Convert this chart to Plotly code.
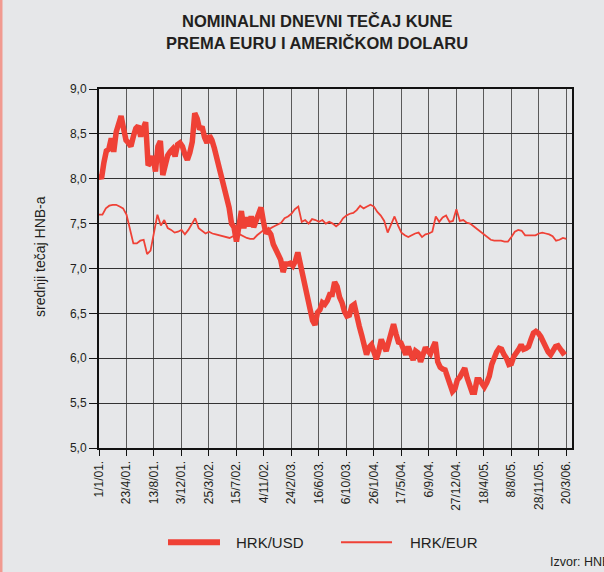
import pandas as pd
import plotly.graph_objects as go

START = "2001-01-01"

# HRK/USD, sampled every 10 days from 1 Jan 2001
usd = [8.05, 8.00, 8.18, 8.31, 8.33, 8.45, 8.30, 8.52, 8.61, 8.70,
       8.56, 8.43, 8.40, 8.36, 8.47, 8.56, 8.59, 8.47, 8.56, 8.63,
       8.15, 8.18, 8.25, 8.08, 8.36, 8.42, 8.04, 8.19, 8.26, 8.30,
       8.33, 8.25, 8.38, 8.40, 8.36, 8.27, 8.21, 8.29, 8.41, 8.73,
       8.67, 8.55, 8.58, 8.46, 8.40, 8.48, 8.43, 8.34, 8.23, 8.09,
       8.00, 7.89, 7.80, 7.68, 7.50, 7.46, 7.30, 7.53, 7.64, 7.45,
       7.57, 7.47, 7.58, 7.46, 7.55, 7.62, 7.68, 7.52, 7.39, 7.42,
       7.38, 7.27, 7.21, 7.15, 7.10, 6.96, 7.05, 7.05, 7.06, 7.03,
       7.08, 7.18, 7.05, 6.92, 6.80, 6.68, 6.53, 6.42, 6.37, 6.51,
       6.54, 6.62, 6.60, 6.64, 6.71, 6.71, 6.85, 6.80, 6.68, 6.62,
       6.52, 6.47, 6.48, 6.58, 6.60, 6.46, 6.36, 6.26, 6.14, 6.04,
       6.12, 6.15, 6.07, 5.99, 6.08, 6.21, 6.14, 6.08, 6.18, 6.26,
       6.38, 6.27, 6.18, 6.17, 6.09, 6.04, 6.13, 6.06, 5.98, 6.08,
       6.06, 5.96, 6.05, 6.12, 6.08, 6.05, 6.12, 6.18, 5.96, 5.90,
       5.88, 5.87, 5.79, 5.70, 5.63, 5.66, 5.76, 5.79, 5.83, 5.89,
       5.78, 5.67, 5.62, 5.62, 5.76, 5.76, 5.71, 5.68, 5.73, 5.80,
       5.93, 6.01, 6.07, 6.11, 6.10, 6.04, 6.00, 5.93, 5.94, 6.02,
       6.05, 6.10, 6.15, 6.10, 6.11, 6.13, 6.21, 6.28, 6.30, 6.28,
       6.24, 6.18, 6.12, 6.07, 6.04, 6.08, 6.13, 6.14, 6.11, 6.06,
       6.08]

# HRK/EUR, sampled every 14 days from 1 Jan 2001
eur = [7.60, 7.60, 7.67, 7.70, 7.71, 7.71, 7.69, 7.67, 7.60, 7.45,
       7.28, 7.28, 7.31, 7.32, 7.16, 7.20, 7.42, 7.60, 7.48, 7.54,
       7.45, 7.43, 7.40, 7.41, 7.43, 7.38, 7.43, 7.50, 7.56, 7.45,
       7.42, 7.39, 7.41, 7.39, 7.38, 7.37, 7.36, 7.35, 7.34, 7.36,
       7.38, 7.38, 7.36, 7.34, 7.33, 7.33, 7.37, 7.40, 7.43, 7.44,
       7.45, 7.47, 7.49, 7.51, 7.56, 7.58, 7.61, 7.66, 7.69, 7.52,
       7.54, 7.50, 7.55, 7.54, 7.52, 7.54, 7.50, 7.52, 7.50, 7.47,
       7.50, 7.56, 7.59, 7.61, 7.62, 7.65, 7.70, 7.67, 7.69, 7.71,
       7.69, 7.63, 7.59, 7.53, 7.40, 7.50, 7.58, 7.48, 7.40, 7.37,
       7.35, 7.37, 7.39, 7.40, 7.35, 7.38, 7.39, 7.41, 7.58, 7.52,
       7.57, 7.59, 7.52, 7.53, 7.66, 7.53, 7.54, 7.51, 7.50, 7.47,
       7.44, 7.41, 7.37, 7.34, 7.32, 7.31, 7.31, 7.31, 7.30, 7.30,
       7.35, 7.41, 7.43, 7.42, 7.37, 7.37, 7.37, 7.37, 7.39, 7.40,
       7.39, 7.38, 7.36, 7.31, 7.32, 7.34, 7.33]

tick_dates = ["2001-01-01", "2001-04-23", "2001-08-13", "2001-12-03", "2002-03-25",
              "2002-07-15", "2002-11-04", "2003-02-24", "2003-06-16", "2003-10-06",
              "2004-01-26", "2004-05-17", "2004-09-06", "2004-12-27", "2005-04-18",
              "2005-08-08", "2005-11-28", "2006-03-20"]
tick_labels = ["1/1/01.", "23/4/01.", "13/8/01.", "3/12/01.", "25/3/02.",
               "15/7/02.", "4/11/02.", "24/2/03.", "16/6/03.", "6/10/03.",
               "26/1/04.", "17/5/04.", "6/9/04.", "27/12/04.", "18/4/05.",
               "8/8/05.", "28/11/05.", "20/3/06."]
y_ticks = [5.0, 5.5, 6.0, 6.5, 7.0, 7.5, 8.0, 8.5, 9.0]
series_names = ["HRK/USD", "HRK/EUR"]
title_lines = ["NOMINALNI DNEVNI TEČAJ KUNE", "PREMA EURU I AMERIČKOM DOLARU"]

usd_dates = pd.date_range(START, periods=len(usd), freq="10D")
eur_dates = pd.date_range(START, periods=len(eur), freq="14D")

RED = "#ef4136"
BG = "#e6e7e9"
TXT = "#231f20"
FONT = "Liberation Sans, Arial, sans-serif"

fig = go.Figure()
fig.add_trace(go.Scatter(x=usd_dates, y=usd, mode="lines", name=series_names[0],
                         line=dict(color=RED, width=5.5), showlegend=False))
fig.add_trace(go.Scatter(x=eur_dates, y=eur, mode="lines", name=series_names[1],
                         line=dict(color=RED, width=1.8), showlegend=False))

fig.update_layout(
    width=604, height=572,
    margin=dict(l=99, r=32, t=88.5, b=123.5),
    paper_bgcolor=BG, plot_bgcolor=BG,
    font=dict(family=FONT, color=TXT),
    separators=",.",
    showlegend=False,
)
fig.update_xaxes(
    type="date", range=["2001-01-01", "2006-04-12"], automargin=False,
    tickvals=tick_dates, ticktext=tick_labels, tickangle=-90,
    tickfont=dict(size=12, color=TXT),
    showgrid=True, gridcolor="#5a5a5a", gridwidth=1.3,
    showline=True, linecolor="#111", linewidth=2, mirror=True,
    ticks="outside", ticklen=6, tickcolor="#111", tickwidth=1.3,
    zeroline=False,
)
fig.update_yaxes(
    range=[5, 9], tickvals=y_ticks, tickformat=".1f", automargin=False,
    tickfont=dict(size=12, color=TXT),
    showgrid=True, gridcolor="#333333", gridwidth=1.3,
    showline=True, linecolor="#111", linewidth=2, mirror=True,
    ticks="outside", ticklen=8, tickcolor="#111", tickwidth=1.3,
    zeroline=False,
)

# title (two centred lines)
for txt, yp in zip(title_lines, [1.1903, 1.1290]):
    fig.add_annotation(text="<b>" + txt + "</b>", xref="paper", yref="paper",
                       x=0.4609, y=yp, xanchor="center", yanchor="middle",
                       showarrow=False, font=dict(size=16.5, color=TXT))

# y-axis title
fig.add_annotation(text="srednji tečaj HNB-a", xref="paper", yref="paper",
                   x=-0.1247, y=0.532, textangle=-90, showarrow=False,
                   xanchor="center", yanchor="middle", font=dict(size=14, color=TXT))

# custom legend
fig.add_shape(type="line", xref="paper", yref="paper", x0=0.1459, x1=0.2558,
              y0=-0.2625, y1=-0.2625, line=dict(color=RED, width=6))
fig.add_annotation(text=series_names[0], xref="paper", yref="paper", x=0.2854, y=-0.2625,
                   xanchor="left", yanchor="middle", showarrow=False,
                   font=dict(size=15, color=TXT))
fig.add_shape(type="line", xref="paper", yref="paper", x0=0.5116, x1=0.6195,
              y0=-0.2625, y1=-0.2625, line=dict(color=RED, width=1.8))
fig.add_annotation(text=series_names[1], xref="paper", yref="paper", x=0.6533, y=-0.2625,
                   xanchor="left", yanchor="middle", showarrow=False,
                   font=dict(size=15, color=TXT))

fig.add_annotation(text="Izvor: HNB", xref="paper", yref="paper", x=0.949, y=-0.318,
                   xanchor="left", yanchor="middle", showarrow=False,
                   font=dict(size=12.5, color=TXT))
fig.add_shape(type="line", xref="paper", yref="paper", x0=-0.2072, x1=-0.2072, y0=-0.4,
              y1=1.3, line=dict(color="#f19a90", width=3))

fig.write_html("out.html", config={"displayModeBar": False})

# remove the browser's default page margin so the figure sits at (0, 0)
with open("out.html", "r", encoding="utf-8") as f:
    html = f.read()
html = html.replace("<head>", "<head><style>html,body{margin:0;padding:0;overflow:hidden;background:#e6e7e9}</style>", 1)
with open("out.html", "w", encoding="utf-8") as f:
    f.write(html)
